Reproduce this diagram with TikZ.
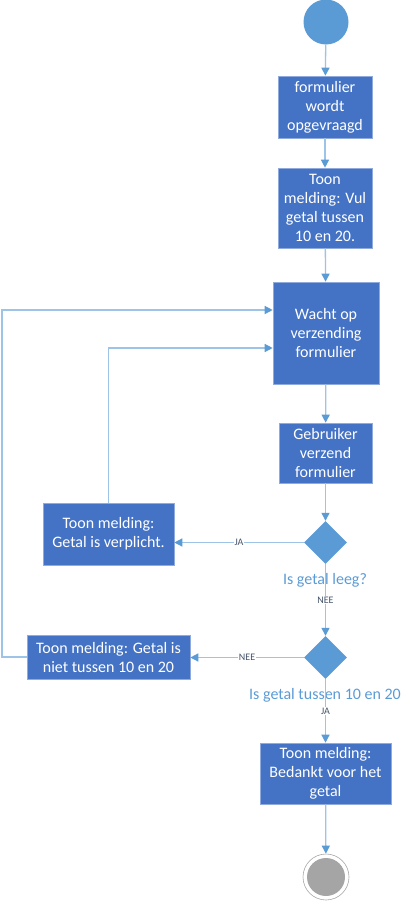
\documentclass[tikz,border=0pt]{standalone}
\usepackage{fontspec}
\setmainfont{Carlito}
\usetikzlibrary{shapes.geometric,arrows.meta,calc}
\definecolor{boxblue}{HTML}{4472C4}
\definecolor{accblue}{HTML}{5B9BD5}
\definecolor{lineblue}{HTML}{9DC3E6}
\definecolor{rimblue}{HTML}{8FAADC}
\definecolor{labgray}{HTML}{44546A}
\definecolor{endgray}{HTML}{A5A5A5}
\begin{document}
\begin{tikzpicture}[x=1pt,y=-1pt,
  stap/.style={rectangle,fill=boxblue,draw=rimblue,line width=0.6pt,text=white,
    align=center,inner sep=0pt,font=\fontsize{16}{19}\selectfont},
  keuze/.style={diamond,fill=accblue,inner sep=0pt,minimum width=43pt,minimum height=43pt},
  vraag/.style={text=accblue,font=\fontsize{16}{19}\selectfont},
  pijl/.style={draw=lineblue,line width=1.3pt,-{Triangle[length=8pt,width=8pt,color=accblue]}},
  lbl/.style={fill=white,inner sep=0.5pt,text=labgray,font=\fontsize{10}{11}\selectfont}]
\useasboundingbox (0,0) rectangle (410,902);

\node[circle,fill=accblue,minimum size=45pt,inner sep=0pt] (start) at (326,22) {};
\node[stap,minimum width=94pt,minimum height=62pt] (opvragen) at (325,107) {formulier\\wordt\\opgevraagd};
\node[stap,minimum width=94pt,minimum height=80pt] (melding1) at (325,208) {Toon\\melding: Vul\\getal tussen\\10 en 20.};
\node[stap,minimum width=106pt,minimum height=102pt] (wacht) at (326,333) {Wacht op\\verzending\\formulier};
\node[stap,minimum width=93pt,minimum height=60pt] (verzend) at (325.5,453) {Gebruiker\\verzend\\formulier};

\node[keuze] (leeg) at (325.5,542.5) {};
\node[vraag] (leegtxt) at (325,580) {Is getal leeg?};
\node[stap,minimum width=131pt,minimum height=62pt] (verplicht) at (108.5,534) {Toon melding:\\Getal is verplicht.};

\node[keuze] (bereik) at (325.5,657.5) {};
\node[vraag] (bereiktxt) at (325,695) {Is getal tussen 10 en 20};
\node[stap,minimum width=163pt,minimum height=44pt] (fout) at (108.5,657) {Toon melding: Getal is\\niet tussen 10 en 20};

\node[stap,minimum width=131pt,minimum height=61pt] (bedankt) at (325.5,773.5) {Toon melding:\\Bedankt voor het\\getal};
\node[circle,draw=gray!70,line width=0.6pt,minimum size=46pt,inner sep=0pt] (einde) at (326,877) {};
\node[circle,fill=endgray,minimum size=38pt,inner sep=0pt] (eindekern) at (einde) {};

\coordinate (links) at (2,0);

\draw[pijl] (start) -- (opvragen);
\draw[pijl] (opvragen) -- (melding1);
\draw[pijl] (melding1) -- (wacht);
\draw[pijl] (wacht) -- (verzend);
\draw[pijl] (verzend) -- (leeg);
\draw[pijl] (leeg.west) -- node[lbl] {JA} (leeg.west -| verplicht.east);
\draw[pijl] (leeg) -- node[lbl,pos=0.5] {NEE} (bereik);
\draw[pijl] (bereik.west) -- node[lbl] {NEE} (bereik.west -| fout.east);
\draw[pijl] (bereik) -- node[lbl] {JA} (bedankt);
\draw[pijl] (bedankt) -- (einde);

% terug naar wachten
\draw[pijl] (verplicht.north) |- ($(wacht.west)+(0,15)$);
\draw[pijl] (fout.west) -- (fout.west -| links) |- ($(wacht.west)+(0,-23)$);
\end{tikzpicture}
\end{document}
